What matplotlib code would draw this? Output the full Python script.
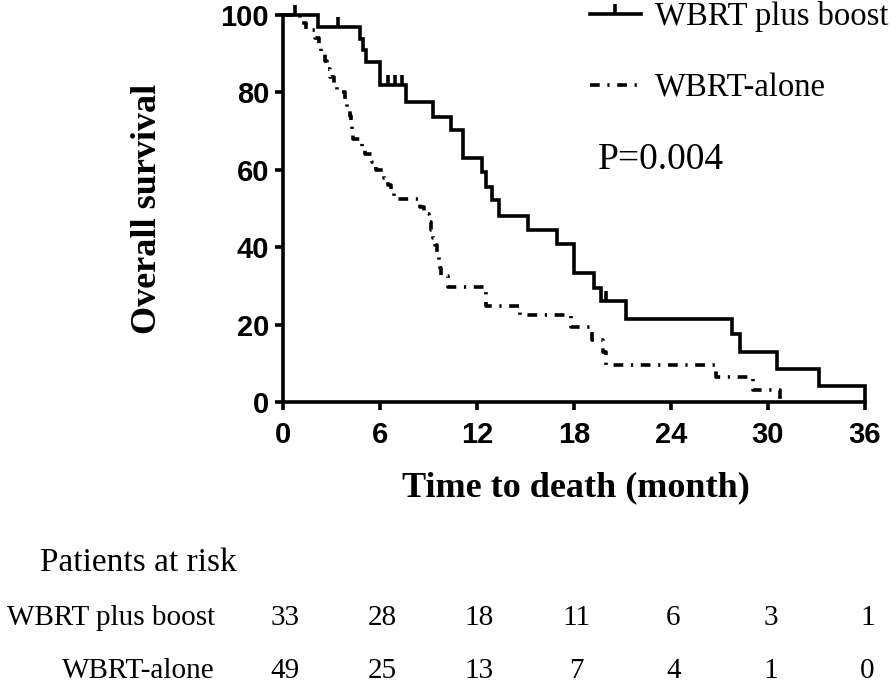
import matplotlib
matplotlib.use('Agg')
import matplotlib.pyplot as plt
from matplotlib.lines import Line2D
from matplotlib.transforms import blended_transform_factory

plt.rcParams['lines.scale_dashes'] = False

# ---- data ----
boost_t = [0, 2.15, 4.76, 4.93, 5.13, 6.0, 7.63, 9.30, 10.42, 11.15, 12.29, 12.55,
           12.90, 13.37, 15.17, 16.92, 18.0, 19.23, 19.70, 21.2, 27.8, 28.26, 30.57,
           33.17, 36.0]
boost_s = [100, 97.0, 93.9, 90.9, 87.9, 81.8, 77.5, 73.7, 70.3, 63.0, 59.5, 55.6,
           52.2, 48.1, 44.4, 40.8, 33.4, 29.5, 26.1, 21.4, 17.5, 12.8, 8.4,
           4.1, 0]
boost_cens_t = [0.75, 3.4, 6.5, 6.9, 7.35, 19.97]
boost_cens_s = [100, 97.0, 81.8, 81.8, 81.8, 26.1]

alone_t = [0, 1.05, 1.4, 2.0, 2.2, 2.35, 2.6, 2.7, 2.9, 3.15,
           3.35, 3.85, 3.95, 4.15, 4.2, 4.27, 4.33, 4.9, 5.1, 5.5,
           5.75, 6.25, 6.5, 6.7, 6.85, 8.47, 8.7, 9.0, 9.15, 9.3,
           9.4, 9.5, 9.65, 9.7, 9.78, 10.2, 12.55, 14.65, 17.8, 19.1,
           19.8, 20.0, 26.8, 29.1, 30.75]
alone_s = [100, 98, 96, 94, 92, 90, 88, 86, 84, 82,
           80, 78, 76, 74, 72, 70, 68, 66, 64, 62,
           60, 58, 56, 54, 52.4, 50.5, 48.5, 46.5, 44.5, 42.5,
           40.5, 38.5, 36.5, 34.5, 32.5, 29.8, 24.9, 22.5, 19.3, 16.0,
           12.8, 9.6, 6.4, 3.2, 0]

group_labels = ['WBRT plus boost', 'WBRT-alone']
risk_times = [0, 6, 12, 18, 24, 30, 36]
risk_boost = [33, 28, 18, 11, 6, 3, 1]
risk_alone = [49, 25, 13, 7, 4, 1, 0]
x_ticks = [0, 6, 12, 18, 24, 30, 36]
y_ticks = [0, 20, 40, 60, 80, 100]
p_text = 'P=0.004'

SERIF = 'Liberation Serif'
SANS = 'Liberation Sans'
LW = 2.6
dashdot = (0, (7, 5.5, 1.6, 5.5))

fig = plt.figure(figsize=(8.96, 6.86), dpi=100)
ax = fig.add_axes([283/896, 1-402/686, (865-283)/896, (402-15)/686])

ax.step(boost_t, boost_s, where='post', color='black', lw=LW, clip_on=False,
        solid_joinstyle='miter')
ax.plot(boost_cens_t, boost_cens_s, ls='none', marker=2, ms=7, mew=LW,
        color='black', clip_on=False)
ax.step(alone_t, alone_s, where='post', color='black', lw=LW, ls=dashdot,
        clip_on=False)

ax.set_xlim(0, 36)
ax.set_ylim(0, 100)
for s in ['top', 'right']:
    ax.spines[s].set_visible(False)
for s in ['left', 'bottom']:
    ax.spines[s].set_linewidth(LW)
ax.set_xticks(x_ticks)
ax.set_xticklabels([str(v) for v in x_ticks])
ax.set_yticks(y_ticks)
ax.set_yticklabels([str(v) for v in y_ticks])
ax.tick_params(axis='both', length=6, width=LW, direction='out')
ax.tick_params(axis='x', pad=8)
ax.tick_params(axis='y', pad=4)
for lab in ax.get_xticklabels() + ax.get_yticklabels():
    lab.set_fontfamily(SANS)
    lab.set_fontweight('bold')
    lab.set_fontsize(21)

ax.set_xlabel('Time to death (month)', fontfamily=SERIF, fontweight='bold', fontsize=26)
ax.xaxis.set_label_coords(0.503, -0.178)
ax.set_ylabel('Overall survival', fontfamily=SERIF, fontweight='bold', fontsize=26)
ax.yaxis.set_label_coords(-0.205, 0.5)

ax.text((598-283)/582, (402-160)/387, p_text, transform=ax.transAxes,
        fontfamily=SERIF, fontsize=27, ha='left', va='center')

handles = [Line2D([], [], color='black', lw=LW, marker=2, ms=7, mew=LW),
           Line2D([], [], color='black', lw=LW, ls=dashdot)]
leg = ax.legend(handles, group_labels, loc='upper left',
                bbox_to_anchor=(590/896, 1-1/686), bbox_transform=fig.transFigure,
                frameon=False, prop={'family': SERIF, 'size': 23.5},
                handlelength=1.55, handletextpad=0.45, labelspacing=1.25,
                borderpad=0, borderaxespad=0, numpoints=1)

# ---- number at risk table ----
tr = blended_transform_factory(ax.transData, fig.transFigure)
fig.text(40/896, 1-563/686, 'Patients at risk', fontfamily=SERIF, fontsize=24,
         ha='left', va='center')
rows = [(risk_boost, 1-618/686), (risk_alone, 1-671/686)]
for (vals, yy), name in zip(rows, group_labels):
    fig.text(215/896, yy, name, fontfamily=SERIF, fontsize=21, ha='right', va='center')
    for t, v in zip(risk_times, vals):
        ax.text(t + 0.15, yy, str(v), transform=tr, fontfamily=SERIF, fontsize=21,
                ha='center', va='center')

fig.savefig('out.png', dpi=100)
